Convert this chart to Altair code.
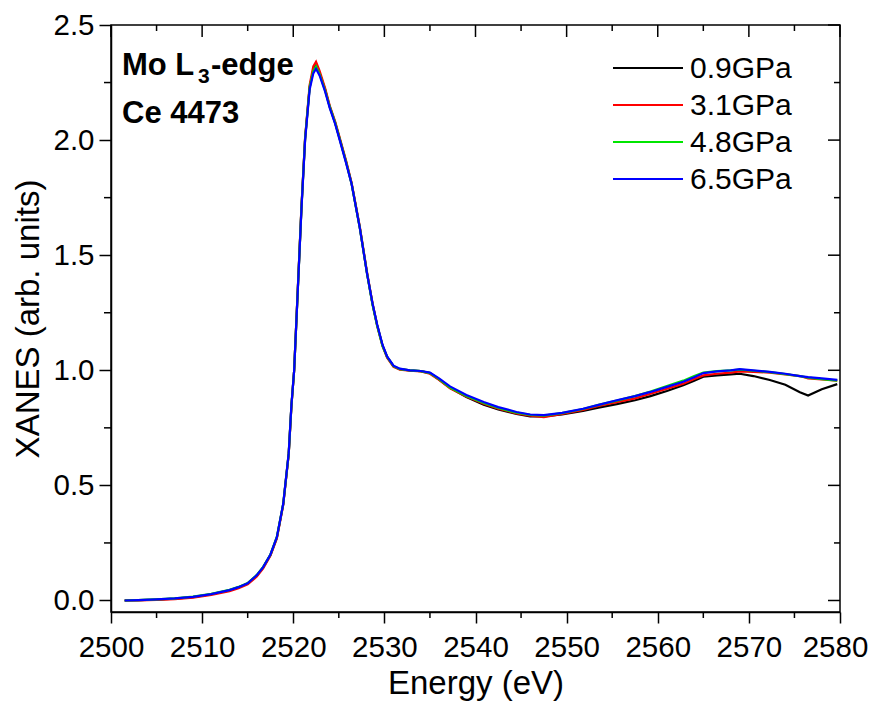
import altair as alt
import pandas as pd

# ---------------- data ----------------
energy = [2501.5, 2503, 2505, 2507, 2509, 2511, 2513, 2514, 2515, 2516,
          2516.7, 2517.5, 2518.2, 2518.9, 2519.5, 2519.8, 2520.1, 2520.5, 2520.9, 2521.3,
          2521.8, 2522.2, 2522.5, 2522.9, 2523.5, 2524.0, 2524.6, 2525.1, 2525.8, 2526.4,
          2527.3, 2528.1, 2528.7, 2529.2, 2529.8, 2530.3, 2531.0, 2531.7, 2532.8, 2534.0,
          2535.0, 2536.0, 2537.2, 2539.0, 2540.9, 2542.5, 2544.5, 2546.0, 2547.5, 2549.5,
          2551.8, 2553.5, 2555.5, 2557.5, 2559.2, 2561.0, 2562.8, 2564.0, 2565.0, 2566.5,
          2568.0, 2569.0, 2570.5, 2572.3, 2574.0, 2575.6, 2576.5, 2578.0, 2579.7]

xanes_09 = [0.000, 0.002, 0.004, 0.008, 0.015, 0.027, 0.044, 0.057, 0.074, 0.108,
            0.144, 0.198, 0.273, 0.418, 0.636, 0.846, 1.000, 1.352, 1.705, 2.005,
            2.230, 2.305, 2.325, 2.290, 2.220, 2.145, 2.075, 2.005, 1.905, 1.812,
            1.620, 1.420, 1.288, 1.198, 1.108, 1.058, 1.018, 1.005, 1.000, 0.996,
            0.988, 0.960, 0.924, 0.884, 0.850, 0.830, 0.810, 0.800, 0.800, 0.808,
            0.823, 0.838, 0.853, 0.870, 0.888, 0.910, 0.935, 0.955, 0.972, 0.978,
            0.982, 0.985, 0.975, 0.958, 0.937, 0.905, 0.890, 0.918, 0.940]

xanes_31 = [0.000, 0.000, 0.003, 0.006, 0.012, 0.024, 0.040, 0.053, 0.070, 0.104,
            0.140, 0.195, 0.270, 0.415, 0.635, 0.845, 1.000, 1.355, 1.710, 2.010,
            2.240, 2.320, 2.340, 2.300, 2.225, 2.150, 2.080, 2.010, 1.910, 1.815,
            1.625, 1.425, 1.290, 1.195, 1.105, 1.055, 1.015, 1.003, 0.998, 0.995,
            0.985, 0.958, 0.922, 0.886, 0.855, 0.833, 0.813, 0.803, 0.797, 0.810,
            0.828, 0.845, 0.862, 0.878, 0.898, 0.920, 0.942, 0.962, 0.978, 0.985,
            0.990, 0.995, 0.993, 0.990, 0.982, 0.975, 0.965, 0.960, 0.955]

xanes_48 = [0.000, 0.002, 0.005, 0.009, 0.017, 0.029, 0.046, 0.059, 0.076, 0.111,
            0.146, 0.200, 0.276, 0.420, 0.638, 0.848, 1.000, 1.350, 1.705, 2.005,
            2.230, 2.300, 2.320, 2.285, 2.215, 2.145, 2.075, 2.005, 1.905, 1.810,
            1.620, 1.420, 1.285, 1.195, 1.105, 1.058, 1.018, 1.005, 1.000, 0.996,
            0.988, 0.962, 0.925, 0.888, 0.858, 0.836, 0.816, 0.806, 0.803, 0.814,
            0.832, 0.850, 0.868, 0.888, 0.908, 0.932, 0.955, 0.975, 0.990, 0.996,
            1.000, 1.003, 0.998, 0.992, 0.983, 0.975, 0.968, 0.962, 0.955]

xanes_65 = [0.000, 0.002, 0.005, 0.009, 0.016, 0.028, 0.045, 0.058, 0.075, 0.110,
            0.145, 0.200, 0.275, 0.420, 0.640, 0.850, 1.000, 1.350, 1.700, 2.000,
            2.220, 2.290, 2.310, 2.280, 2.210, 2.140, 2.070, 2.000, 1.900, 1.810,
            1.620, 1.420, 1.290, 1.200, 1.110, 1.060, 1.020, 1.007, 1.000, 0.997,
            0.990, 0.965, 0.930, 0.893, 0.862, 0.840, 0.819, 0.808, 0.805, 0.815,
            0.833, 0.850, 0.870, 0.888, 0.906, 0.928, 0.950, 0.970, 0.988, 0.995,
            1.000, 1.005, 1.000, 0.993, 0.985, 0.975, 0.970, 0.965, 0.958]

series_names = ["0.9GPa", "3.1GPa", "4.8GPa", "6.5GPa"]
series_values = [xanes_09, xanes_31, xanes_48, xanes_65]
series_colors = ["#000000", "#ff0000", "#00e600", "#0000ff"]

x_major = [2500, 2510, 2520, 2530, 2540, 2550, 2560, 2570, 2580]
x_minor = [2505, 2515, 2525, 2535, 2545, 2555, 2565, 2575]
y_major = [0.0, 0.5, 1.0, 1.5, 2.0, 2.5]
y_minor = [0.25, 0.75, 1.25, 1.75, 2.25]

x_domain = [2500, 2580]
y_domain = [-0.05, 2.5]

# ---------------- layout ----------------
W, H = 729, 587
FONT = "Liberation Sans"
xs = alt.Scale(domain=x_domain, nice=False, zero=False)
ys = alt.Scale(domain=y_domain, nice=False, zero=False)

x_axis = alt.Axis(values=x_major, format="d", tickSize=11, tickWidth=1.5,
                  domainWidth=1.5, labelPadding=10, title="Energy (eV)",
                  titlePadding=6, grid=False, labelOverlap=False, labelFlush=False,
                  labelOffset={"condition": {"test": "datum.value == 2580", "value": -5},
                               "value": 0})
y_axis = alt.Axis(values=y_major, format=".1f", tickSize=12, tickWidth=1.5,
                  domainWidth=1.5, labelPadding=5, title="XANES (arb. units)",
                  titlePadding=7, grid=False, labelOverlap=False, labelFlush=False)

layers = []
for i, (name, vals, col) in enumerate(zip(series_names, series_values, series_colors)):
    df = pd.DataFrame({"energy": energy, "xanes": vals, "series": name})
    layers.append(
        alt.Chart(df).mark_line(color=col, strokeWidth=2.2, clip=True).encode(
            x=alt.X("energy:Q", scale=xs, axis=x_axis),
            y=alt.Y("xanes:Q", scale=ys, axis=y_axis),
            order=alt.Order("energy:Q"),
        )
    )

# tick marks (minor outward on bottom/left, inward on top/right)
xmaj = pd.DataFrame({"t": x_major})
xmin = pd.DataFrame({"t": x_minor})
ymaj = pd.DataFrame({"t": y_major})
ymin = pd.DataFrame({"t": y_minor})

def xrule(df, y0, y1):
    return alt.Chart(df).mark_rule(color="black", strokeWidth=1.5).encode(
        x=alt.X("t:Q", scale=xs, axis=x_axis), y=alt.value(y0), y2=alt.value(y1))

def yrule(df, x0, x1):
    return alt.Chart(df).mark_rule(color="black", strokeWidth=1.5).encode(
        y=alt.Y("t:Q", scale=ys, axis=y_axis), x=alt.value(x0), x2=alt.value(x1))

layers += [
    xrule(xmin, H, H + 6),
    xrule(xmaj, 0, 12),
    xrule(xmin, 0, 6),
    yrule(ymin, 0, -7),
    yrule(ymaj, W, W - 12),
    yrule(ymin, W, W - 6),
]

# legend
for i, (name, col) in enumerate(zip(series_names, series_colors)):
    ld = pd.DataFrame({"label": [name]})
    yy = 43 + i * 37
    layers.append(alt.Chart(ld).mark_rule(color=col, strokeWidth=2.2).encode(
        x=alt.value(502), x2=alt.value(572), y=alt.value(yy)))
    layers.append(alt.Chart(ld).mark_text(align="left", baseline="middle", font=FONT,
                                          fontSize=30, color="black").encode(
        x=alt.value(579), y=alt.value(yy + 1), text="label:N"))

# annotation text
ann = pd.DataFrame({"a": ["Mo L"], "b": ["3"], "c": ["-edge"], "d": ["Ce 4473"]})
layers += [
    alt.Chart(ann).mark_text(align="left", baseline="alphabetic", font=FONT, fontSize=31,
                             fontWeight="bold", color="black").encode(
        x=alt.value(11), y=alt.value(50), text="a:N"),
    alt.Chart(ann).mark_text(align="left", baseline="alphabetic", font=FONT, fontSize=21,
                             fontWeight="bold", color="black").encode(
        x=alt.value(87), y=alt.value(58), text="b:N"),
    alt.Chart(ann).mark_text(align="left", baseline="alphabetic", font=FONT, fontSize=31,
                             fontWeight="bold", color="black").encode(
        x=alt.value(100), y=alt.value(50), text="c:N"),
    alt.Chart(ann).mark_text(align="left", baseline="alphabetic", font=FONT, fontSize=31,
                             fontWeight="bold", color="black").encode(
        x=alt.value(11), y=alt.value(98), text="d:N"),
]

chart = alt.layer(*layers).properties(
    width=W, height=H,
    autosize=alt.AutoSizeParams(type="none"),
    padding={"left": 103, "top": 17, "right": 28, "bottom": 93},
    background="white",
).configure_view(
    stroke="black", strokeWidth=1.5
).configure_axis(
    labelFont=FONT, titleFont=FONT, labelFontSize=29.5, titleFontSize=33,
    labelColor="black", titleColor="black", domainColor="black", tickColor="black",
    titleFontWeight="normal",
)

chart.save("out.html", embed_options={"renderer": "svg", "actions": False})
